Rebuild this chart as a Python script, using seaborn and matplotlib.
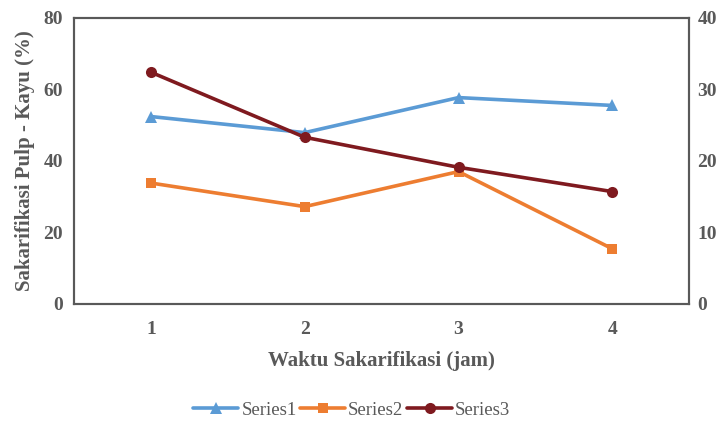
import pandas as pd
import matplotlib
matplotlib.use("Agg")
import matplotlib.pyplot as plt
import seaborn as sns

# data
jam = [1, 2, 3, 4]
series1 = [52.4, 47.9, 57.7, 55.5]   # left axis
series2 = [33.8, 27.2, 37.0, 15.4]   # left axis
series3 = [32.4, 23.3, 19.1, 15.7]   # right axis

sns.set_theme(style="white")
plt.rcParams["font.family"] = ["Liberation Serif", "DejaVu Serif"]

grey = "#595959"
colors = {"Series1": "#5B9BD5", "Series2": "#ED7D31", "Series3": "#7F1A1F"}

df_left = pd.DataFrame({"jam": jam * 2,
                        "nilai": series1 + series2,
                        "seri": ["Series1"] * 4 + ["Series2"] * 4})
df_right = pd.DataFrame({"jam": jam, "nilai": series3})

fig = plt.figure(figsize=(7.18, 4.25), dpi=100)
ax = fig.add_axes([0.103, 0.285, 0.857, 0.673])
ax2 = ax.twinx()

sns.lineplot(data=df_left[df_left.seri == "Series1"], x="jam", y="nilai", ax=ax,
             color=colors["Series1"], marker="^", markersize=8, linewidth=2.6,
             markeredgewidth=0, label="Series1", legend=False)
sns.lineplot(data=df_left[df_left.seri == "Series2"], x="jam", y="nilai", ax=ax,
             color=colors["Series2"], marker="s", markersize=7, linewidth=2.6,
             markeredgewidth=0, label="Series2", legend=False)
sns.lineplot(data=df_right, x="jam", y="nilai", ax=ax2,
             color=colors["Series3"], marker="o", markersize=8, linewidth=2.6,
             markeredgewidth=0, label="Series3", legend=False)

ax.set_xlim(0.5, 4.5)
ax.set_ylim(0, 80)
ax2.set_ylim(0, 40)
ax.set_xticks(jam)
ax.set_yticks([0, 20, 40, 60, 80])
ax2.set_yticks([0, 10, 20, 30, 40])

tick_font = dict(fontsize=14, fontweight="bold", color=grey)
ax.set_xticklabels([str(j) for j in jam], **tick_font)
ax.set_yticklabels(["0", "20", "40", "60", "80"], **tick_font)
ax2.set_yticklabels(["0", "10", "20", "30", "40"], **tick_font)
ax.tick_params(axis="both", length=0)
ax.tick_params(axis="x", pad=12)
ax.tick_params(axis="y", pad=8)
ax2.tick_params(axis="y", length=0, pad=6)

ax.set_xlabel("Waktu Sakarifikasi (jam)", fontsize=15, fontweight="bold",
              color=grey, labelpad=10)
ax.set_ylabel("Sakarifikasi Pulp - Kayu (%)", fontsize=15, fontweight="bold",
              color=grey, labelpad=6)
ax2.set_ylabel("")

for a in (ax, ax2):
    for s in a.spines.values():
        s.set_color(grey)
        s.set_linewidth(1.5)
ax.grid(False)
ax2.grid(False)

h1, l1 = ax.get_legend_handles_labels()
h2, l2 = ax2.get_legend_handles_labels()
fig.legend(h1 + h2, l1 + l2, loc="center", bbox_to_anchor=(0.49, 0.035),
           ncol=3, frameon=False, fontsize=13.5, handlelength=2.4,
           handletextpad=0.15, columnspacing=0.2, labelcolor=grey)

fig.savefig("out.png", dpi=100)
